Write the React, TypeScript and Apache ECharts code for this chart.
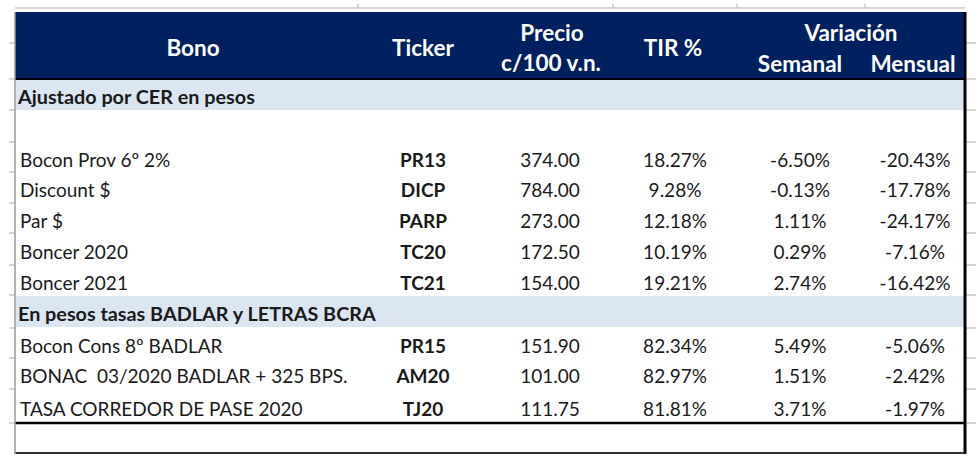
import React, { useEffect, useRef } from "react";
import * as echarts from "echarts";

const headerLabels = ["Bono", "Ticker", "Precio", "c/100 v.n.", "TIR %", "Variación", "Semanal", "Mensual"];
const section1Title = "Ajustado por CER en pesos";
const section2Title = "En pesos tasas BADLAR y LETRAS BCRA";

const bonos1 = ["Bocon Prov 6º 2%", "Discount $", "Par $", "Boncer 2020", "Boncer 2021"];
const tickers1 = ["PR13", "DICP", "PARP", "TC20", "TC21"];
const precios1 = [374.0, 784.0, 273.0, 172.5, 154.0];
const tir1 = [18.27, 9.28, 12.18, 10.19, 19.21];
const semanal1 = [-6.5, -0.13, 1.11, 0.29, 2.74];
const mensual1 = [-20.43, -17.78, -24.17, -7.16, -16.42];

const bonos2 = ["Bocon Cons 8º BADLAR", "BONAC  03/2020 BADLAR + 325 BPS.", "TASA CORREDOR DE PASE 2020"];
const tickers2 = ["PR15", "AM20", "TJ20"];
const precios2 = [151.9, 101.0, 111.75];
const tir2 = [82.34, 82.97, 81.81];
const semanal2 = [5.49, 1.51, 3.71];
const mensual2 = [-5.06, -2.42, -1.97];

const FONT = "Lato, Calibri, 'Open Sans', sans-serif";
const NAVY = "#002060";
const LIGHT = "#dce6f1";
const TXT = "#1a1a1a";
const GRID = "#c8c8c8";

const X_LEFT = 15;
const X_RIGHT = 965;
const X_BONO = 20;
const X_TICKER = 423;
const X_PRECIO = 550;
const X_TIR = 675;
const X_SEM = 800;
const X_MEN = 915;

const rowBounds1 = [142, 172, 203, 233, 265, 295];
const rowBounds2 = [328, 358, 389, 423];

function txt(x: number, y: number, text: string, opts: any = {}) {
  return {
    type: "text",
    x,
    y,
    silent: true,
    style: {
      text,
      fill: opts.fill || TXT,
      font: `${opts.weight || "normal"} ${opts.size || 19}px ${FONT}`,
      align: opts.align || "center",
      verticalAlign: "middle",
    },
  };
}

function line(x1: number, y1: number, x2: number, y2: number, stroke: string, w: number) {
  return { type: "line", silent: true, shape: { x1, y1, x2, y2 }, style: { stroke, lineWidth: w } };
}

export default function App() {
  const ref = useRef<HTMLDivElement>(null);
  useEffect(() => {
    if (!ref.current) return;
    const chart = echarts.init(ref.current, null, { renderer: "svg" });
    const els: any[] = [];

    els.push({ type: "rect", silent: true, shape: { x: 0, y: 0, width: 980, height: 467 }, style: { fill: "#ffffff" } });

    els.push(line(X_LEFT, 8, X_RIGHT, 8, GRID, 1.5));
    [358, 613, 737, 865].forEach((cx) => els.push(line(cx, 4, cx, 9, GRID, 1.5)));
    const allBounds = [43, 79, 110, ...rowBounds1, ...rowBounds2];
    allBounds.forEach((by) => {
      els.push(line(9, by, X_LEFT, by, GRID, 1.5));
      els.push(line(X_RIGHT, by, 976, by, GRID, 1.5));
    });

    // header
    els.push({ type: "rect", silent: true, shape: { x: X_LEFT, y: 12, width: X_RIGHT - X_LEFT, height: 67 }, style: { fill: NAVY } });
    els.push(line(X_LEFT, 79, X_RIGHT, 79, "#000000", 2));
    const hw = { fill: "#ffffff", weight: "bold", size: 22.5 };
    els.push(txt(193, 47, headerLabels[0], hw));
    els.push(txt(X_TICKER, 47, headerLabels[1], hw));
    els.push(txt(552, 32, headerLabels[2], hw));
    els.push(txt(551, 62, headerLabels[3], hw));
    els.push(txt(673, 47, headerLabels[4], hw));
    els.push(txt(851, 32, headerLabels[5], hw));
    els.push(txt(800, 63, headerLabels[6], hw));
    els.push(txt(913, 63, headerLabels[7], hw));

    // section 1
    els.push({ type: "rect", silent: true, shape: { x: X_LEFT + 1, y: 80, width: X_RIGHT - X_LEFT - 2, height: 30 }, style: { fill: LIGHT } });
    els.push(txt(18, 96, section1Title, { weight: "bold", size: 19.8, align: "left" }));

    const addRows = (bounds: number[], bonos: string[], tks: string[], pr: number[], tir: number[], sem: number[], men: number[]) => {
      bonos.forEach((b, i) => {
        const cy = (bounds[i] + bounds[i + 1]) / 2 + 2;
        els.push(txt(X_BONO, cy, b, { align: "left" }));
        els.push(txt(X_TICKER, cy, tks[i], { weight: "bold" }));
        els.push(txt(X_PRECIO, cy, pr[i].toFixed(2)));
        els.push(txt(X_TIR, cy, tir[i].toFixed(2) + "%"));
        els.push(txt(X_SEM, cy, sem[i].toFixed(2) + "%"));
        els.push(txt(X_MEN, cy, men[i].toFixed(2) + "%"));
      });
    };
    addRows(rowBounds1, bonos1, tickers1, precios1, tir1, semanal1, mensual1);

    // section 2
    els.push({ type: "rect", silent: true, shape: { x: X_LEFT + 1, y: 296, width: X_RIGHT - X_LEFT - 2, height: 31 }, style: { fill: LIGHT } });
    els.push(txt(18, 313, section2Title, { weight: "bold", size: 19.8, align: "left" }));
    addRows(rowBounds2, bonos2, tickers2, precios2, tir2, semanal2, mensual2);

    // borders
    els.push(line(X_LEFT, 423, X_RIGHT, 423, "#000000", 2.5));
    els.push(line(X_LEFT, 453, X_RIGHT + 1, 453, "#333333", 2));
    els.push(line(X_LEFT, 12, X_LEFT, 454, "#9a9a9a", 1.5));
    els.push(line(X_RIGHT, 12, X_RIGHT, 454, "#000000", 3));

    chart.setOption({ animation: false, graphic: { elements: els } });
    return () => chart.dispose();
  }, []);
  return <div ref={ref} style={{ position: "fixed", left: 0, top: 0, width: 980, height: 467, background: "#fff" }} />;
}
